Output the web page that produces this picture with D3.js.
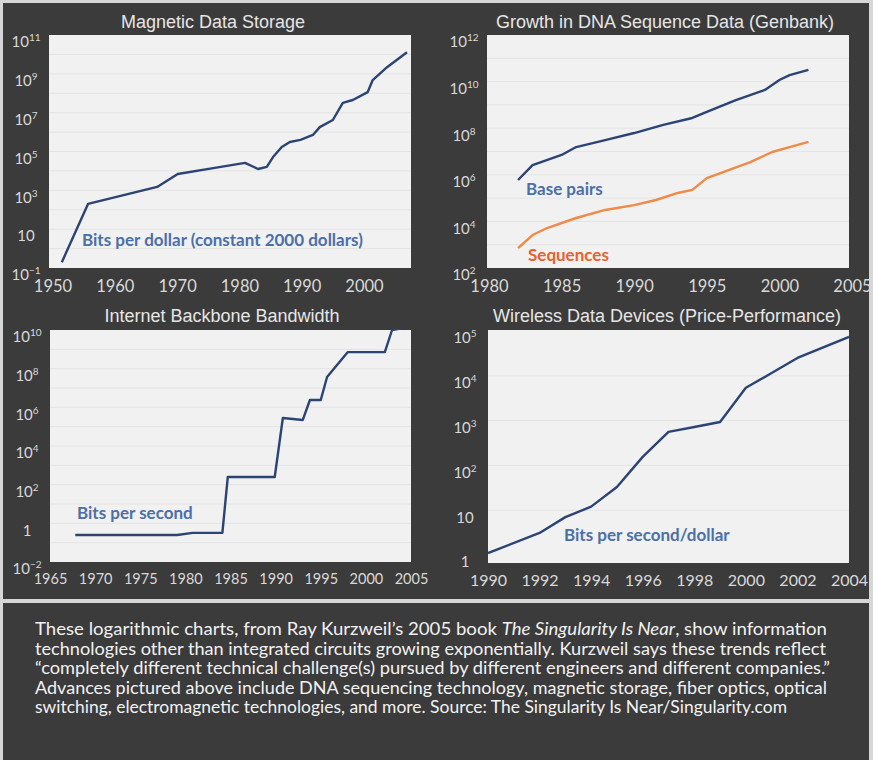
<!DOCTYPE html>
<html>
<head>
<meta charset="utf-8">
<script src="https://cdn.jsdelivr.net/npm/d3@7"></script>
<style>
  html, body { margin: 0; padding: 0; background: #dcdcdc; }
  svg { display: block; }
</style>
</head>
<body>
<svg id="chart" width="873" height="760"></svg>
<script>
// ---- Magnetic data storage: bits per dollar (constant 2000 dollars)
const magYears = [1951.5, 1955.7, 1966.8, 1970.1, 1975.8, 1980.9, 1983.0, 1984.4, 1985.4, 1986.8,
  1988.1, 1989.8, 1991.8, 1992.9, 1995.0, 1996.6, 1998.2, 2000.6, 2001.4, 2003.7, 2006.9];
const magBits = [0.2, 200, 1500, 6900, 14000, 26000, 12600, 16000, 52000, 170000,
  310000, 400000, 710000, 1.8e6, 4.2e6, 3.2e7, 4.5e7, 1.15e8, 4.8e8, 2.2e9, 1.3e10];
const magXTicks = [1950, 1960, 1970, 1980, 1990, 2000];
const magYExp = [-1, 1, 3, 5, 7, 9, 11];

// ---- GenBank growth: base pairs and sequences
const dnaBpYears = [1982, 1983, 1985, 1986, 1988, 1990, 1992, 1994, 1995, 1997, 1999, 2000, 2000.7, 2002];
const dnaBasePairs = [6.0e5, 2.6e6, 7.1e6, 1.55e7, 3.1e7, 6.2e7, 1.38e8, 2.75e8, 5.0e8, 1.6e9, 4.4e9, 1.17e10, 1.9e10, 3.2e10];
const dnaSeqYears = [1982, 1983, 1984, 1986, 1988, 1990, 1991.5, 1993, 1994, 1995, 1996.5, 1998, 1999.5, 2000.7, 2002];
const dnaSequences = [720, 2600, 5200, 14000, 31000, 50000, 83000, 166000, 224000, 720000, 1.6e6, 3.5e6, 9.5e6, 1.55e7, 2.6e7];
const dnaXTicks = [1980, 1985, 1990, 1995, 2000, 2005];
const dnaYExp = [2, 4, 6, 8, 10, 12];

// ---- Internet backbone bandwidth: bits per second
const netYears = [1967.8, 1979.1, 1980.8, 1984.1, 1984.7, 1989.9, 1990.8, 1993.0, 1993.8, 1995.0, 1995.7, 1998.0, 2002.1, 2002.9, 2004.1];
const netBps = [0.25, 0.25, 0.32, 0.32, 250, 250, 2.8e5, 2.2e5, 2.4e6, 2.4e6, 3.7e7, 7.2e8, 7.2e8, 1e10, 1.26e10];
const netXTicks = [1965, 1970, 1975, 1980, 1985, 1990, 1995, 2000, 2005];
const netYExp = [-2, 0, 2, 4, 6, 8, 10];

// ---- Wireless data devices: bits per second per dollar
const wlYears = [1990, 1992, 1993, 1994, 1995, 1996, 1997, 1998, 1999, 2000, 2001, 2002, 2004];
const wlBpsPerDollar = [1.1, 3.1, 7, 12, 33, 155, 560, 720, 930, 5400, 11500, 25000, 74000];
const wlXTicks = [1990, 1992, 1994, 1996, 1998, 2000, 2002, 2004];
const wlYExp = [0, 1, 2, 3, 4, 5];

const captionLines = [
  [["These logarithmic charts, from Ray Kurzweil\u2019s 2005 book ", false], ["The Singularity Is Near", true], [", show information", false]],
  [["technologies other than integrated circuits growing exponentially. Kurzweil says these trends reflect", false]],
  [["\u201ccompletely different technical challenge(s) pursued by different engineers and different companies.\u201d", false]],
  [["Advances pictured above include DNA sequencing technology, magnetic storage, fiber optics, optical", false]],
  [["switching, electromagnetic technologies, and more. Source: The Singularity Is Near/Singularity.com", false]]
];
const captionWidths = [792, 791, 795, 792, 752];

// ---- drawing
const svg = d3.select("#chart");
const DARK = "#3b3b3b";
const BLUE_LINE = "#2c4474";
const BLUE_TEXT = "#4b6fa8";
const ORANGE_LINE = "#f08a45";
const ORANGE_TEXT = "#e8622c";
const TICK_FONT = "Lato, 'Open Sans', sans-serif";

// page frame
svg.append("rect").attr("x", 0).attr("y", 0).attr("width", 873).attr("height", 760).attr("fill", "#d6d6d6");
svg.append("rect").attr("x", 3).attr("y", 3).attr("width", 866).attr("height", 596).attr("fill", DARK);
svg.append("rect").attr("x", 3).attr("y", 603).attr("width", 866).attr("height", 157).attr("fill", DARK);

function expLabel(sel, e) {
  sel.text(null);
  if (e === 0) { sel.append("tspan").text("1"); return; }
  if (e === 1) { sel.append("tspan").text("10"); return; }
  sel.append("tspan").text("10");
  sel.append("tspan").attr("dy", -6).attr("font-size", 10).text(String(e).replace("-", "\u2212"));
}

function panel(cfg) {
  const g = svg.append("g");
  const p = cfg.plot;
  const x = d3.scaleLinear().domain(cfg.xDomain).range(cfg.xRange);
  const y = d3.scaleLog().domain(cfg.yDomain).range(cfg.yRange);

  g.append("rect").attr("x", p.x0).attr("y", p.y0).attr("width", p.x1 - p.x0).attr("height", p.y1 - p.y0)
    .attr("fill", "#f1f1f1");

  // faint decade gridlines
  const lo = Math.log10(cfg.yDomain[0]), hi = Math.log10(cfg.yDomain[1]);
  const decades = d3.range(lo + 1, hi, 1).map(e => Math.pow(10, e));
  g.append("g").selectAll("line").data(decades).join("line")
    .attr("x1", p.x0).attr("x2", p.x1)
    .attr("y1", d => y(d)).attr("y2", d => y(d))
    .attr("stroke", "#e4e4e4").attr("stroke-width", 1);

  // title
  g.append("text").attr("x", cfg.titleX).attr("y", cfg.titleY).attr("text-anchor", "middle")
    .attr("font-family", "'Liberation Sans', Arial, sans-serif").attr("font-size", 18)
    .attr("fill", "#e6e6e6").text(cfg.title);

  // x axis
  const xa = g.append("g").attr("transform", `translate(0,${p.y1})`)
    .call(d3.axisBottom(x).tickValues(cfg.xTicks).tickFormat(d3.format("d")).tickSize(0).tickPadding(12));
  xa.select(".domain").remove();
  xa.selectAll("text").attr("font-family", TICK_FONT).attr("font-size", cfg.xFont).attr("fill", "#d9d9d9");

  // y axis (powers of ten)
  const ya = g.append("g").attr("transform", `translate(${p.x0},0)`)
    .call(d3.axisLeft(y).tickValues(cfg.yExp.map(e => Math.pow(10, e))).tickSize(0).tickPadding(0));
  ya.select(".domain").remove();
  ya.selectAll(".tick text")
    .attr("x", -23).attr("dy", "0.32em").attr("transform", "translate(0,7)")
    .attr("text-anchor", "middle")
    .attr("font-family", TICK_FONT).attr("font-size", 15).attr("fill", "#d9d9d9")
    .each(function (d) { expLabel(d3.select(this), Math.round(Math.log10(d))); });

  // series
  const clipId = "clip" + cfg.id;
  g.append("clipPath").attr("id", clipId).append("rect")
    .attr("x", p.x0).attr("y", p.y0 - 1).attr("width", p.x1 - p.x0).attr("height", p.y1 - p.y0 + 1);
  const line = d3.line().x(d => x(d[0])).y(d => y(d[1]));
  cfg.series.forEach(s => {
    const pts = s.years.map((yr, i) => [yr, s.values[i]]);
    g.append("path").datum(pts).attr("d", line).attr("fill", "none")
      .attr("clip-path", `url(#${clipId})`)
      .attr("stroke", s.color).attr("stroke-width", 2.4).attr("stroke-linejoin", "round");
    g.append("text").attr("x", s.labelX).attr("y", s.labelY)
      .attr("font-family", TICK_FONT).attr("font-weight", "bold").attr("font-size", 17)
      .attr("fill", s.labelColor).text(s.label);
  });
}

panel({
  id: 1, title: "Magnetic Data Storage", titleX: 213, titleY: 28, xFont: 16.5,
  plot: { x0: 49, x1: 411, y0: 35, y1: 268 },
  xDomain: [1950, 2000], xRange: [52.5, 364],
  yDomain: [1e-1, 1e11], yRange: [268, 35],
  xTicks: magXTicks, yExp: magYExp,
  series: [{ years: magYears, values: magBits, color: BLUE_LINE, label: "Bits per dollar (constant 2000 dollars)", labelX: 82, labelY: 246, labelColor: BLUE_TEXT }]
});

panel({
  id: 2, title: "Growth in DNA Sequence Data (Genbank)", titleX: 665, titleY: 28, xFont: 16.5,
  plot: { x0: 487, x1: 849, y0: 35, y1: 268 },
  xDomain: [1980, 2005], xRange: [489, 852],
  yDomain: [1e2, 1e12], yRange: [268, 35],
  xTicks: dnaXTicks, yExp: dnaYExp,
  series: [
    { years: dnaBpYears, values: dnaBasePairs, color: BLUE_LINE, label: "Base pairs", labelX: 526, labelY: 195, labelColor: BLUE_TEXT },
    { years: dnaSeqYears, values: dnaSequences, color: ORANGE_LINE, label: "Sequences", labelX: 528, labelY: 261, labelColor: ORANGE_TEXT }
  ]
});

panel({
  id: 3, title: "Internet Backbone Bandwidth", titleX: 222, titleY: 322, xFont: 14.5,
  plot: { x0: 50, x1: 411, y0: 330, y1: 562 },
  xDomain: [1965, 2005], xRange: [50, 411],
  yDomain: [1e-2, 1e10], yRange: [562, 330],
  xTicks: netXTicks, yExp: netYExp,
  series: [{ years: netYears, values: netBps, color: BLUE_LINE, label: "Bits per second", labelX: 77, labelY: 519, labelColor: BLUE_TEXT }]
});

panel({
  id: 4, title: "Wireless Data Devices (Price-Performance)", titleX: 667, titleY: 322, xFont: 16,
  plot: { x0: 488, x1: 849, y0: 330, y1: 563 },
  xDomain: [1990, 2004], xRange: [488, 849],
  yDomain: [1, 1e5], yRange: [555, 331],
  xTicks: wlXTicks, yExp: wlYExp,
  series: [{ years: wlYears, values: wlBpsPerDollar, color: BLUE_LINE, label: "Bits per second/dollar", labelX: 564, labelY: 541, labelColor: BLUE_TEXT }]
});

// caption
const cap = svg.append("g").attr("font-family", TICK_FONT).attr("font-size", 17).attr("fill", "#f2f2f2");
captionLines.forEach((parts, i) => {
  const t = cap.append("text").attr("x", 35).attr("y", 635 + i * 19.5)
    .attr("textLength", captionWidths[i]).attr("lengthAdjust", "spacingAndGlyphs");
  parts.forEach(([s, it]) => t.append("tspan").attr("font-style", it ? "italic" : "normal").text(s));
});
</script>
</body>
</html>
